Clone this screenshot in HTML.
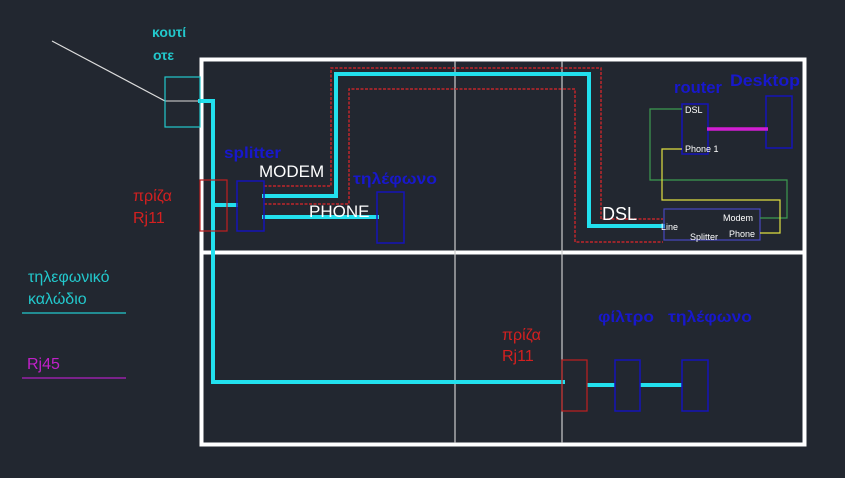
<!DOCTYPE html>
<html><head><meta charset="utf-8"><style>
html,body{margin:0;padding:0;background:#222730;}
svg{display:block;}
text{font-family:"Liberation Sans","DejaVu Sans",sans-serif;}
</style></head><body>
<svg width="845" height="478" viewBox="0 0 845 478" xmlns="http://www.w3.org/2000/svg">
<rect width="845" height="478" fill="#222730"/>
<rect x="201.5" y="59.5" width="603" height="385" fill="none" stroke="#fff" stroke-width="4"/>
<line x1="201" y1="252.5" x2="805" y2="252.5" stroke="#fff" stroke-width="4"/>
<line x1="455" y1="61" x2="455" y2="443" stroke="#ccc" stroke-width="1.2"/>
<line x1="562" y1="61" x2="562" y2="443" stroke="#ccc" stroke-width="1.2"/>
<line x1="52" y1="41" x2="165" y2="101" stroke="#ddd" stroke-width="1.2"/>
<line x1="165" y1="101" x2="200" y2="101" stroke="#ddd" stroke-width="1"/>
<path d="M264,186 L331,186 L331,68 L601,68 L601,219 L663,219" fill="none" stroke="#c0262a" stroke-width="1.5" stroke-dasharray="3,1.5"/>
<path d="M264,204 L349,204 L349,89 L575,89 L575,242 L663,242" fill="none" stroke="#c0262a" stroke-width="1.5" stroke-dasharray="3,1.5"/>
<g fill="none" stroke="#22e0ee" stroke-width="4">
<path d="M198,101 L213,101 L213,382 L565,382"/>
<path d="M213,205 L238,205"/>
<path d="M262,196 L336,196 L336,74 L589,74 L589,226 L665,226"/>
<path d="M262,217 L379,217"/>
<path d="M587,385 L615,385"/>
<path d="M640,385 L682,385"/>
</g>
<rect x="165" y="77" width="35" height="50" fill="none" stroke="#22c8cc" stroke-width="1.2"/>
<rect x="200" y="180" width="27" height="51" fill="none" stroke="#c02020" stroke-width="1.2"/>
<rect x="237" y="181" width="27" height="50" fill="none" stroke="#1414b8" stroke-width="1.5"/>
<rect x="377" y="192" width="27" height="51" fill="none" stroke="#1414b8" stroke-width="1.5"/>
<rect x="562" y="360" width="25" height="51" fill="none" stroke="#c02020" stroke-width="1.2"/>
<rect x="615" y="360" width="25" height="51" fill="none" stroke="#1414b8" stroke-width="1.5"/>
<rect x="682" y="360" width="26" height="51" fill="none" stroke="#1414b8" stroke-width="1.5"/>
<rect x="682" y="104" width="26" height="50" fill="none" stroke="#1414b8" stroke-width="1.5"/>
<rect x="766" y="96" width="26" height="52" fill="none" stroke="#1414b8" stroke-width="1.5"/>
<line x1="707" y1="129" x2="768" y2="129" stroke="#d21ed2" stroke-width="3.5"/>
<rect x="664" y="209" width="96" height="31" fill="none" stroke="#4848c0" stroke-width="1.2"/>
<path d="M682,109 L650,109 L650,180 L787,180 L787,218 L760,218" fill="none" stroke="#3c9a50" stroke-width="1.2"/>
<path d="M682,149 L662,149 L662,200 L780,200 L780,233 L760,233" fill="none" stroke="#e0e040" stroke-width="1.2"/>
<line x1="22" y1="313" x2="126" y2="313" stroke="#22c8cc" stroke-width="1.2"/>
<line x1="22" y1="378" x2="126" y2="378" stroke="#b020c0" stroke-width="1.2"/>
<g font-size="14" font-weight="bold" fill="#22c8cc"><text x="152" y="37">κουτί</text><text x="153" y="60">οτε</text></g>
<g font-size="16" fill="#22c8cc"><text x="28" y="282">τηλεφωνικό</text><text x="28" y="304">καλώδιο</text></g>
<text x="27" y="369" font-size="16" fill="#c020c8">Rj45</text>
<g font-size="16" fill="#d42020"><text x="133" y="201">πρίζα</text><text x="133" y="223">Rj11</text>
<text x="502" y="340">πρίζα</text><text x="502" y="361">Rj11</text></g>
<g font-size="16" fill="#1818cc" font-weight="bold"><text x="224" y="158" textLength="57" lengthAdjust="spacingAndGlyphs">splitter</text><text x="353" y="184" textLength="84" lengthAdjust="spacingAndGlyphs">τηλέφωνο</text>
<text x="598" y="322" textLength="56" lengthAdjust="spacingAndGlyphs">φίλτρο</text><text x="668" y="322" textLength="84" lengthAdjust="spacingAndGlyphs">τηλέφωνο</text>
<text x="674" y="93" font-size="17" textLength="48" lengthAdjust="spacingAndGlyphs">router</text><text x="730" y="86" font-size="17" textLength="70" lengthAdjust="spacingAndGlyphs">Desktop</text></g>
<g font-size="17" fill="#fff"><text x="259" y="177">MODEM</text><text x="309" y="217">PHONE</text><text x="602" y="220" font-size="18">DSL</text></g>
<g font-size="9" fill="#fff"><text x="685" y="113">DSL</text><text x="685" y="152">Phone 1</text>
<text x="723" y="221">Modem</text><text x="729" y="237">Phone</text><text x="661" y="230">Line</text><text x="690" y="240">Splitter</text></g>
</svg>
</body></html>
